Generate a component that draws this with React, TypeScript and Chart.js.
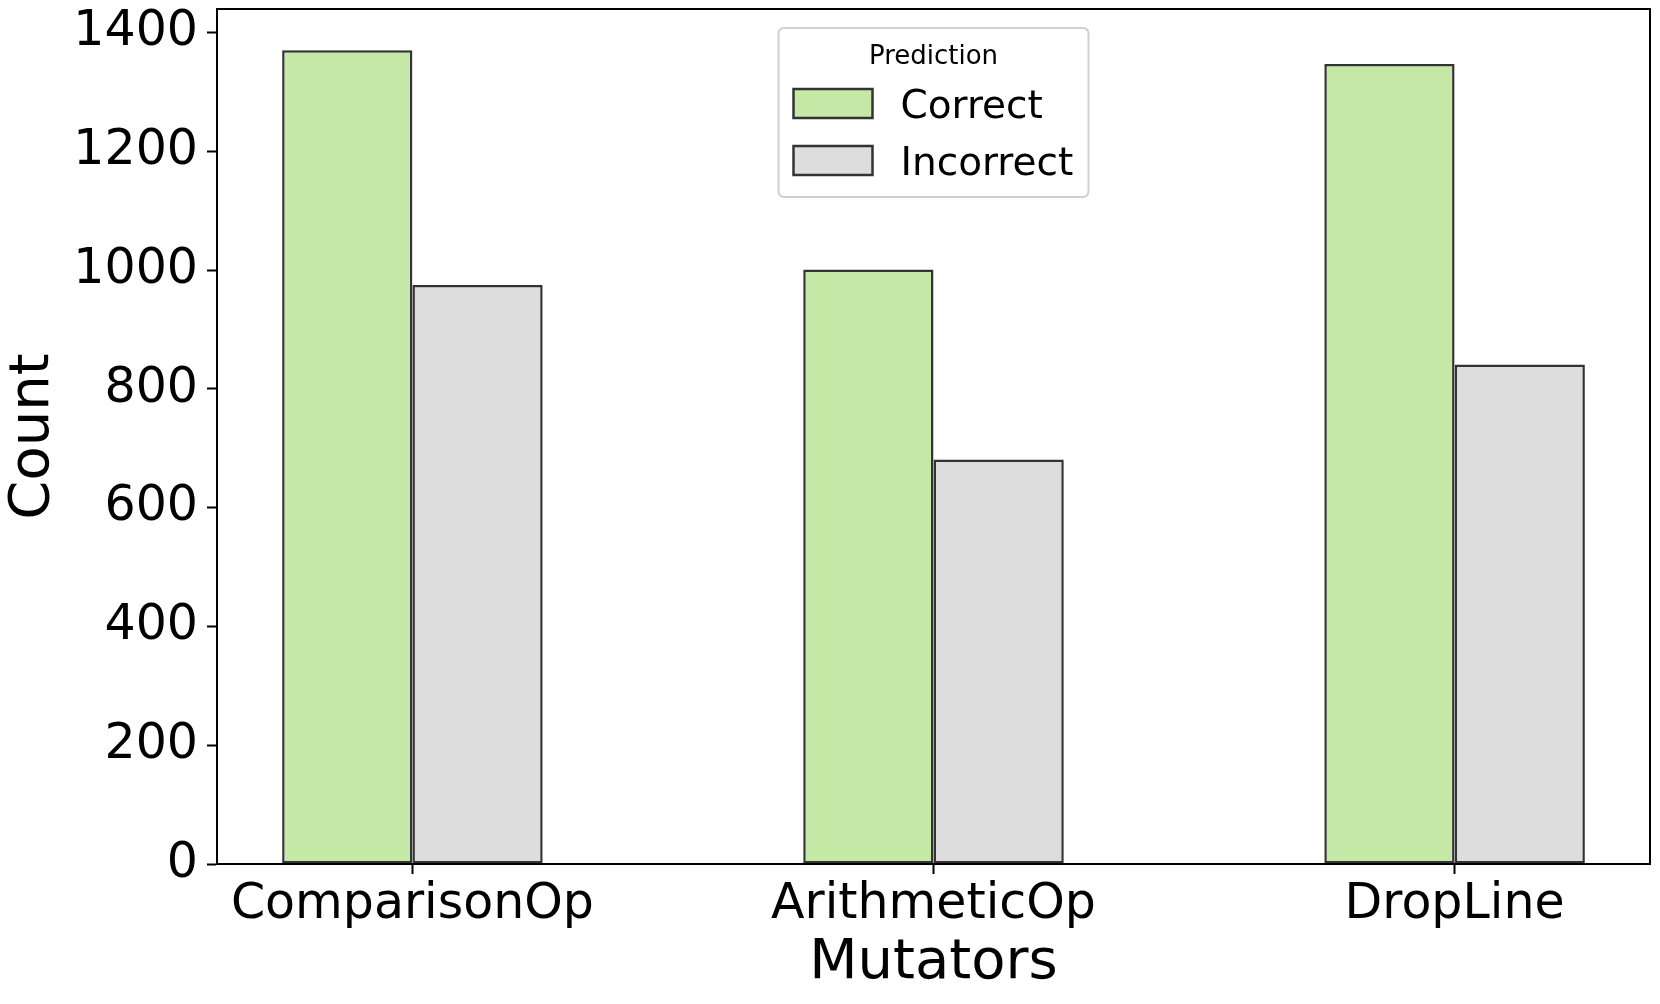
import React, { useEffect, useRef } from "react";
import { Chart, registerables } from "chart.js";

Chart.register(...registerables);

const categories = ["ComparisonOp", "ArithmeticOp", "DropLine"];
const categoryPositions = [0, 1, 2];
const correctValues = [1370, 1001, 1347];
const incorrectValues = [975, 681, 841];
const yTickValues = [0, 200, 400, 600, 800, 1000, 1200, 1400];
const seriesLabels = ["Correct", "Incorrect"];
const legendTitle = "Prediction";
const xTitle = "Mutators";
const yTitle = "Count";

const FONT = "'DejaVu Sans', 'Liberation Sans', sans-serif";

const framePlugin = {
  id: "frame",
  afterDatasetsDraw(chart: any) {
    const { ctx, chartArea } = chart;
    ctx.save();
    ctx.strokeStyle = "#000000";
    ctx.lineWidth = 2;
    ctx.strokeRect(chartArea.left, chartArea.top, chartArea.right - chartArea.left, chartArea.bottom - chartArea.top);
    ctx.restore();
  },
};

const legendPlugin = {
  id: "mplLegend",
  afterDraw(chart: any) {
    const { ctx, chartArea } = chart;
    const w = 310;
    const h = 169;
    const cx = (chartArea.left + chartArea.right) / 2;
    const x0 = cx - w / 2;
    const y0 = chartArea.top + 19;
    ctx.save();
    const r = 6;
    ctx.beginPath();
    ctx.moveTo(x0 + r, y0);
    ctx.lineTo(x0 + w - r, y0);
    ctx.quadraticCurveTo(x0 + w, y0, x0 + w, y0 + r);
    ctx.lineTo(x0 + w, y0 + h - r);
    ctx.quadraticCurveTo(x0 + w, y0 + h, x0 + w - r, y0 + h);
    ctx.lineTo(x0 + r, y0 + h);
    ctx.quadraticCurveTo(x0, y0 + h, x0, y0 + h - r);
    ctx.lineTo(x0, y0 + r);
    ctx.quadraticCurveTo(x0, y0, x0 + r, y0);
    ctx.closePath();
    ctx.fillStyle = "rgba(255,255,255,0.8)";
    ctx.fill();
    ctx.strokeStyle = "#d0d0d0";
    ctx.lineWidth = 2;
    ctx.stroke();

    ctx.fillStyle = "#000000";
    ctx.font = `26px ${FONT}`;
    ctx.textAlign = "center";
    ctx.textBaseline = "alphabetic";
    ctx.fillText(chart.options.plugins.mplLegend.title, cx, y0 + 36);

    const datasets = chart.data.datasets;
    datasets.forEach((ds: any, i: number) => {
      const py = y0 + 61 + i * 57;
      ctx.fillStyle = ds.backgroundColor;
      ctx.fillRect(x0 + 15, py, 79, 29);
      ctx.strokeStyle = ds.borderColor;
      ctx.lineWidth = 2.5;
      ctx.strokeRect(x0 + 15, py, 79, 29);
      ctx.fillStyle = "#000000";
      ctx.font = `39px ${FONT}`;
      ctx.textAlign = "left";
      ctx.textBaseline = "alphabetic";
      ctx.fillText(ds.label, x0 + 122, py + 28.5);
    });
    ctx.restore();
  },
};

export default function App() {
  const canvasRef = useRef<HTMLCanvasElement | null>(null);

  useEffect(() => {
    document.body.style.margin = "0";
    const canvas = canvasRef.current;
    if (!canvas) return;
    const chart = new Chart(canvas, {
      type: "bar",
      data: {
        datasets: [
          {
            label: seriesLabels[0],
            data: categoryPositions.map((x, i) => ({ x, y: correctValues[i] })),
            backgroundColor: "#c5e8a7",
            borderColor: "#333333",
            borderWidth: 2.5,
            borderSkipped: false,
            categoryPercentage: 0.5,
            barPercentage: 1.0,
          },
          {
            label: seriesLabels[1],
            data: categoryPositions.map((x, i) => ({ x, y: incorrectValues[i] })),
            backgroundColor: "#dddddd",
            borderColor: "#333333",
            borderWidth: 2.5,
            borderSkipped: false,
            categoryPercentage: 0.5,
            barPercentage: 1.0,
          },
        ],
      },
      options: {
        animation: false,
        responsive: false,
        maintainAspectRatio: false,
        devicePixelRatio: 1,
        layout: { padding: { left: 0, top: 9, right: 10, bottom: 0 } },
        plugins: {
          legend: { display: false },
          tooltip: { enabled: false },
          mplLegend: { title: legendTitle },
        } as any,
        scales: {
          x: {
            type: "linear",
            min: -0.375,
            max: 2.375,
            offset: false,
            afterBuildTicks: (axis: any) => {
              axis.ticks = categoryPositions.map((v) => ({ value: v }));
            },
            afterFit: (axis: any) => {
              axis.height = 140;
              axis.paddingLeft = 0;
              axis.paddingRight = 0;
            },
            grid: {
              display: true,
              offset: false,
              drawOnChartArea: false,
              drawTicks: true,
              tickLength: 10,
              tickWidth: 2,
              tickColor: "#000000",
            },
            border: { display: true, color: "#000000", width: 2 },
            ticks: {
              autoSkip: false,
              maxRotation: 0,
              padding: 2,
              color: "#000000",
              font: { family: FONT, size: 49 },
              callback: (v: any) => {
                const idx = categoryPositions.indexOf(Number(v));
                return idx >= 0 ? categories[idx] : "";
              },
            },
            title: {
              display: true,
              text: xTitle,
              color: "#000000",
              font: { family: FONT, size: 56, lineHeight: 1.2 },
              padding: { top: 0, bottom: 7 },
            },
          },
          y: {
            type: "linear",
            min: 0,
            max: 1439.55,
            afterBuildTicks: (axis: any) => {
              axis.ticks = yTickValues.map((v) => ({ value: v }));
            },
            afterFit: (axis: any) => {
              axis.width = 217;
              axis.paddingTop = 0;
              axis.paddingBottom = 0;
            },
            grid: {
              display: true,
              drawOnChartArea: false,
              drawTicks: true,
              tickLength: 10,
              tickWidth: 2,
              tickColor: "#000000",
            },
            border: { display: true, color: "#000000", width: 2 },
            ticks: {
              padding: 9,
              color: "#000000",
              font: { family: FONT, size: 49 },
              callback: (v: any) => String(v),
            },
            title: {
              display: true,
              text: yTitle,
              color: "#000000",
              font: { family: FONT, size: 56, lineHeight: 1.2 },
              padding: { top: 0, bottom: 0 },
            },
          },
        },
      } as any,
      plugins: [framePlugin, legendPlugin],
    });
    return () => chart.destroy();
  }, []);

  return (
    <div style={{ width: 1660, height: 1004 }}>
      <canvas ref={canvasRef} width={1660} height={1004} style={{ display: "block", width: 1660, height: 1004 }} />
    </div>
  );
}
